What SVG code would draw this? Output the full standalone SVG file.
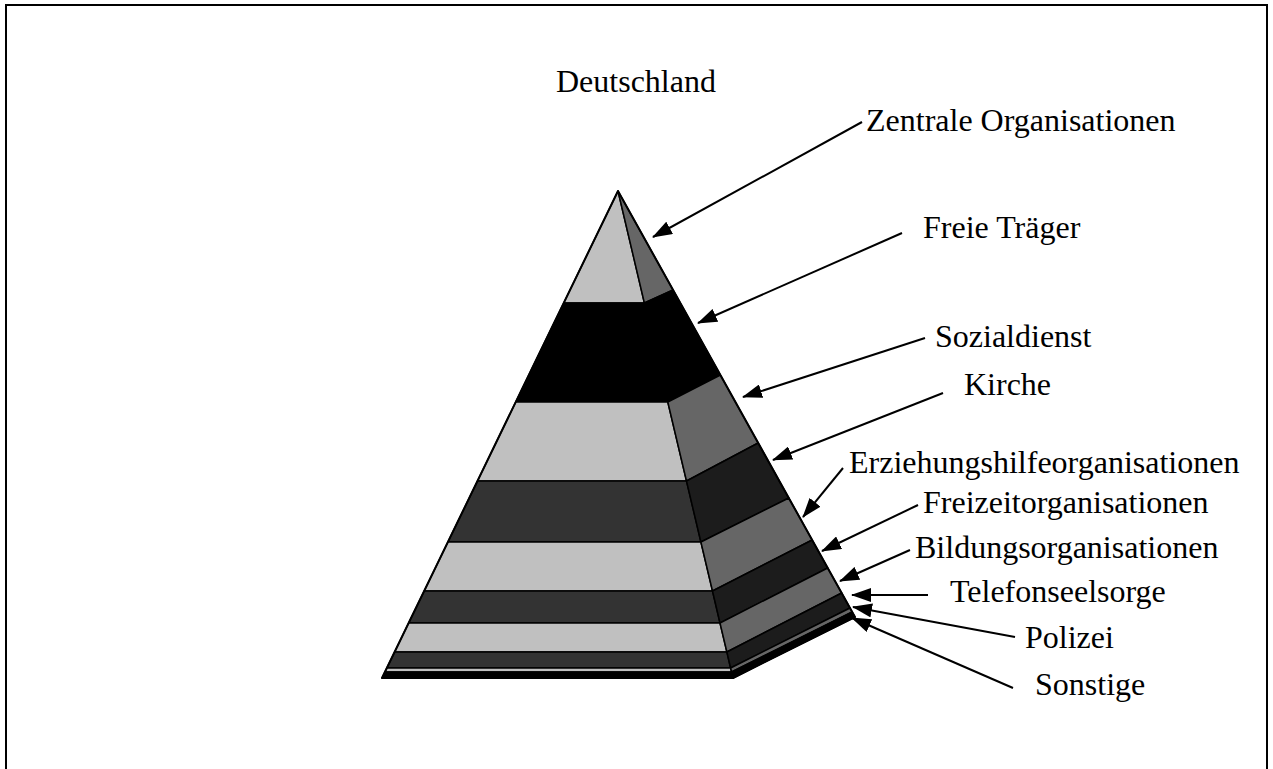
<svg xmlns="http://www.w3.org/2000/svg" width="1273" height="769" viewBox="0 0 1273 769">
<defs>
<style>
.lbl{font-family:"Liberation Serif","Times New Roman",serif;font-size:32px;fill:#000}
.b{stroke:#000;stroke-width:1.5;stroke-linejoin:round}
.fl{fill:#c0c0c0}.fd{fill:#333333}.sm{fill:#666666}.sd{fill:#1c1c1c}.bk{fill:#000}
.con line{stroke:#000;stroke-width:2;fill:none}
</style>
<marker id="ah" viewBox="0 0 20 14" refX="19" refY="7" markerWidth="20" markerHeight="14" markerUnits="userSpaceOnUse" orient="auto">
<path d="M0,0 L20,7 L0,14 z" fill="#000"/>
</marker>
</defs>
<rect width="1273" height="769" fill="#fff"/>
<path d="M6,772 V5 H1267 V772" fill="none" stroke="#000" stroke-width="2"/>

<g id="pyramid">
<g id="band1"><polygon class="b fl" points="618,191 644.4,303 563.7,303"/><polygon class="b sm" points="618,191 673.1,290 644.4,303"/></g>
<g id="band2"><polygon class="b bk" points="563.7,303 644.4,303 667.8,402 515.7,402"/><polygon class="b bk" points="644.4,303 673.1,290 720.4,375 667.8,402"/></g>
<g id="band3"><polygon class="b fl" points="515.7,402 667.8,402 686.5,481 477.5,481"/><polygon class="b sm" points="667.8,402 720.4,375 758.2,443 686.5,481"/></g>
<g id="band4"><polygon class="b fd" points="477.5,481 686.5,481 700.9,542 447.9,542"/><polygon class="b sd" points="686.5,481 758.2,443 788.8,498 700.9,542"/></g>
<g id="band5"><polygon class="b fl" points="447.9,542 700.9,542 712.5,591 424.2,591"/><polygon class="b sm" points="700.9,542 788.8,498 812.2,540 712.5,591"/></g>
<g id="band6"><polygon class="b fd" points="424.2,591 712.5,591 720,623 408.6,623"/><polygon class="b sd" points="712.5,591 812.2,540 827.7,568 720,623"/></g>
<g id="band7"><polygon class="b fl" points="408.6,623 720,623 726.9,652 394.6,652"/><polygon class="b sm" points="720,623 827.7,568 841.7,593 726.9,652"/></g>
<g id="band8"><polygon class="b fd" points="394.6,652 726.9,652 730.6,668 386.8,668"/><polygon class="b sd" points="726.9,652 841.7,593 850,608 730.6,668"/></g>
<g id="band9"><polygon class="b fl" points="386.8,668 730.6,668 731.6,672 384.9,672"/><polygon class="b sm" points="730.6,668 850,608 852.2,612 731.6,672"/></g>
<g id="band10"><polygon class="b bk" points="384.9,672 731.6,672 733,678 382,678"/><polygon class="b bk" points="731.6,672 852.2,612 855,617 733,678"/></g>
<path d="M618,191 L382,678 L733,678 L855,617 Z" fill="none" stroke="#000" stroke-width="2" stroke-linejoin="round"/>
</g>

<g id="connectors" class="con">
<line x1="862" y1="122" x2="653" y2="237" marker-end="url(#ah)"/>
<line x1="902" y1="233" x2="698" y2="323" marker-end="url(#ah)"/>
<line x1="925" y1="338" x2="743" y2="397" marker-end="url(#ah)"/>
<line x1="943" y1="393" x2="773" y2="460" marker-end="url(#ah)"/>
<line x1="843" y1="468" x2="803" y2="517" marker-end="url(#ah)"/>
<line x1="918" y1="505" x2="822" y2="551" marker-end="url(#ah)"/>
<line x1="910" y1="550" x2="840" y2="581" marker-end="url(#ah)"/>
<line x1="928" y1="595" x2="852" y2="595" marker-end="url(#ah)"/>
<line x1="1015" y1="637" x2="853" y2="607" marker-end="url(#ah)"/>
<line x1="1013" y1="688" x2="852" y2="618" marker-end="url(#ah)"/>
</g>

<g id="title"><text class="lbl" x="556" y="92">Deutschland</text></g>
<g id="l1"><text class="lbl" x="866" y="131">Zentrale Organisationen</text></g>
<g id="l2"><text class="lbl" x="923" y="238">Freie Träger</text></g>
<g id="l3"><text class="lbl" x="935" y="347">Sozialdienst</text></g>
<g id="l4"><text class="lbl" x="964" y="395">Kirche</text></g>
<g id="l5"><text class="lbl" x="849" y="473">Erziehungshilfeorganisationen</text></g>
<g id="l6"><text class="lbl" x="923" y="513">Freizeitorganisationen</text></g>
<g id="l7"><text class="lbl" x="915" y="558">Bildungsorganisationen</text></g>
<g id="l8"><text class="lbl" x="950" y="602">Telefonseelsorge</text></g>
<g id="l9"><text class="lbl" x="1025" y="648">Polizei</text></g>
<g id="l10"><text class="lbl" x="1035" y="695">Sonstige</text></g>
</svg>
